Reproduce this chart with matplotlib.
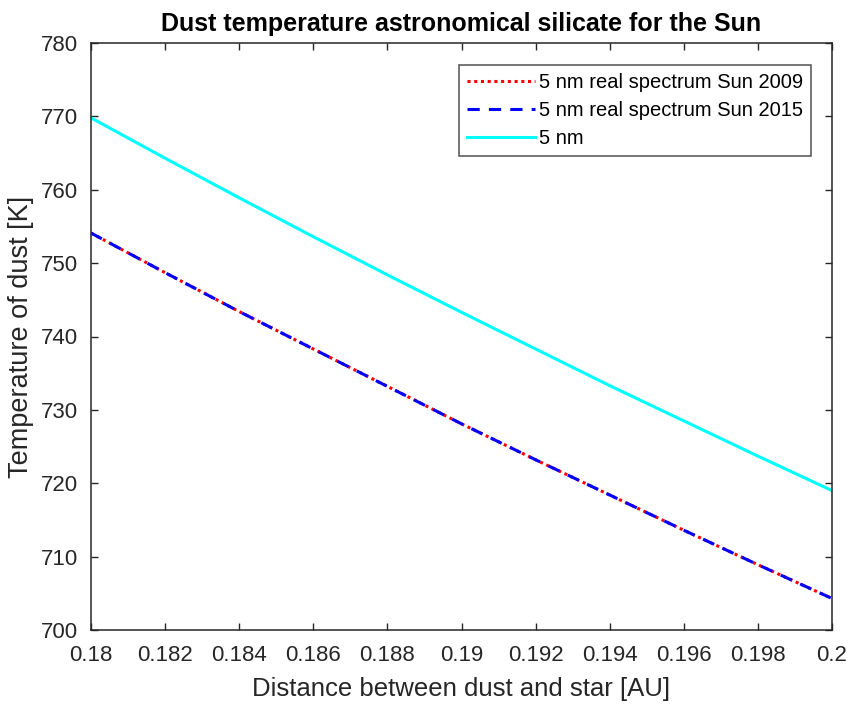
import numpy as np
import matplotlib
matplotlib.use('Agg')
import matplotlib.pyplot as plt

plt.rcParams['font.family'] = ['Liberation Sans', 'DejaVu Sans']

# distance from the star [AU]
distance = [0.180, 0.182, 0.184, 0.186, 0.188, 0.190, 0.192, 0.194, 0.196, 0.198, 0.200]

# dust temperature [K]
temp_sun_2009 = [754.1, 748.7, 743.4, 738.3, 733.2, 728.1, 723.2, 718.4, 713.6, 708.9, 704.3]
temp_sun_2015 = [754.1, 748.7, 743.4, 738.3, 733.2, 728.1, 723.2, 718.4, 713.6, 708.9, 704.3]
temp_blackbody = [769.8, 764.3, 758.9, 753.6, 748.4, 743.3, 738.3, 733.3, 728.5, 723.7, 719.0]

labels = ['5 nm real spectrum Sun 2009', '5 nm real spectrum Sun 2015', '5 nm']

dark = '#262626'

fig = plt.figure(figsize=(8.5, 7.04), dpi=100)
ax = fig.add_axes([91 / 850, 1 - 630 / 704, (832 - 91) / 850, (630 - 43) / 704])

ax.plot(distance, temp_sun_2009, color='red', linestyle=(0, (1, 1.2)), linewidth=2.2, label=labels[0])
ax.plot(distance, temp_sun_2015, color='blue', linestyle=(0, (4, 3)), linewidth=2.2, label=labels[1])
ax.plot(distance, temp_blackbody, color='cyan', linestyle='-', linewidth=2.2, label=labels[2])

ax.set_xlim(0.18, 0.2)
ax.set_ylim(700, 780)
ax.set_xticks(np.arange(0.18, 0.2001, 0.002))
ax.set_xticklabels(['0.18', '0.182', '0.184', '0.186', '0.188', '0.19',
                    '0.192', '0.194', '0.196', '0.198', '0.2'])
ax.set_yticks(range(700, 781, 10))

ax.tick_params(direction='in', length=5, width=1, color=dark, labelcolor=dark,
               labelsize=16, top=True, right=True)
ax.tick_params(axis='x', pad=11)
ax.tick_params(axis='y', pad=9)
for sp in ax.spines.values():
    sp.set_color(dark)
    sp.set_linewidth(1.1)

ax.set_xlabel('Distance between dust and star [AU]', fontsize=18.5, color=dark, labelpad=8)
ax.set_ylabel('Temperature of dust [K]', fontsize=19.5, color=dark, labelpad=5)
ax.set_title('Dust temperature astronomical silicate for the Sun', fontsize=18,
             fontweight='bold', color='black', pad=9)

leg = ax.legend(loc='upper right', fontsize=14.5, handlelength=3.4, handletextpad=0.2,
                labelspacing=0.45, borderpad=0.4, fancybox=False,
                bbox_to_anchor=(0.972, 0.963), borderaxespad=0)
leg.get_frame().set_edgecolor(dark)
leg.get_frame().set_linewidth(1.1)

fig.savefig('out.png', dpi=100)
